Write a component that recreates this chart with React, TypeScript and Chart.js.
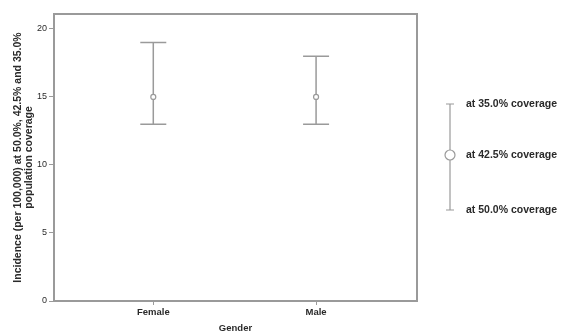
import React, { useEffect, useRef } from "react";
import { Chart, registerables } from "chart.js";
Chart.register(...registerables);

const categories = ["Female", "Male"];
const catPos = [1, 2];
const meanValues = [15, 15];
const upperValues = [19, 18];
const lowerValues = [13, 13];
const yTicks = [0, 5, 10, 15, 20];
const legendLabels = ["at 35.0% coverage", "at 42.5% coverage", "at 50.0% coverage"];

const GRAY = "#9a9a9a";
const TEXT = "#2a2a2a";
const FONT = "'Liberation Sans', Arial, sans-serif";

const errorBarPlugin = {
  id: "errorBars",
  afterDatasetsDraw(chart: any) {
    const ctx = chart.ctx;
    const xs = chart.scales.x;
    const ys = chart.scales.y;
    const ca = chart.chartArea;
    ctx.save();
    // frame
    ctx.strokeStyle = GRAY;
    ctx.lineWidth = 2;
    ctx.strokeRect(ca.left, ca.top, ca.right - ca.left, ca.bottom - ca.top);
    // error bars
    ctx.lineWidth = 1.5;
    for (let i = 0; i < catPos.length; i++) {
      const x = xs.getPixelForValue(catPos[i]);
      const yt = ys.getPixelForValue(upperValues[i]);
      const yb = ys.getPixelForValue(lowerValues[i]);
      const ym = ys.getPixelForValue(meanValues[i]);
      ctx.beginPath();
      ctx.moveTo(x, yt);
      ctx.lineTo(x, ym - 2.5);
      ctx.moveTo(x, ym + 2.5);
      ctx.lineTo(x, yb);
      ctx.moveTo(x - 13, yt);
      ctx.lineTo(x + 13, yt);
      ctx.moveTo(x - 13, yb);
      ctx.lineTo(x + 13, yb);
      ctx.stroke();
    }
    // legend
    const lx = 450;
    const yTop = 104, yMid = 155, yBot = 210;
    ctx.lineWidth = 1.2;
    ctx.beginPath();
    ctx.moveTo(lx, yTop);
    ctx.lineTo(lx, yMid - 5);
    ctx.moveTo(lx, yMid + 5);
    ctx.lineTo(lx, yBot);
    ctx.moveTo(lx - 4, yTop);
    ctx.lineTo(lx + 4, yTop);
    ctx.moveTo(lx - 4, yBot);
    ctx.lineTo(lx + 4, yBot);
    ctx.stroke();
    ctx.beginPath();
    ctx.arc(lx, yMid, 5, 0, Math.PI * 2);
    ctx.stroke();
    ctx.fillStyle = TEXT;
    ctx.font = `bold 10.5px ${FONT}`;
    ctx.textBaseline = "middle";
    ctx.textAlign = "left";
    ctx.fillText(legendLabels[0], 466, yTop);
    ctx.fillText(legendLabels[1], 466, yMid);
    ctx.fillText(legendLabels[2], 466, yBot);
    ctx.restore();
  },
};

export default function App() {
  const ref = useRef<HTMLCanvasElement>(null);
  useEffect(() => {
    if (!ref.current) return;
    const chart = new Chart(ref.current, {
      type: "scatter",
      data: {
        datasets: [
          {
            data: catPos.map((x, i) => ({ x, y: meanValues[i] })),
            pointRadius: 2.5,
            pointBorderColor: GRAY,
            pointBackgroundColor: "rgba(0,0,0,0)",
            pointBorderWidth: 1.2,
          },
        ],
      },
      options: {
        responsive: false,
        animation: false,
        layout: { padding: { left: 0, right: 146, top: 14, bottom: 0 } },
        plugins: { legend: { display: false }, tooltip: { enabled: false } },
        scales: {
          x: {
            type: "linear",
            min: 0.39,
            max: 2.62,
            afterBuildTicks: (s: any) => {
              s.ticks = catPos.map((v) => ({ value: v }));
            },
            afterFit: (s: any) => {
              s.height = 33;
            },
            ticks: {
              callback: (v: any) => categories[catPos.indexOf(Number(v))] ?? "",
              color: TEXT,
              font: { family: FONT, size: 9.5, weight: "bold" },
              padding: 2,
              maxRotation: 0,
            },
            grid: { drawOnChartArea: false, drawTicks: true, tickLength: 4, color: GRAY },
            border: { display: false },
            title: {
              display: true,
              text: "Gender",
              color: TEXT,
              font: { family: FONT, size: 9.5, weight: "bold" },
              padding: { top: 1, bottom: 0 },
            },
          },
          y: {
            min: 0,
            max: 21.1,
            afterBuildTicks: (s: any) => {
              s.ticks = yTicks.map((v) => ({ value: v }));
            },
            afterFit: (s: any) => {
              s.width = 54;
            },
            ticks: {
              color: TEXT,
              font: { family: FONT, size: 9 },
              padding: 2,
            },
            grid: { drawOnChartArea: false, drawTicks: true, tickLength: 5, color: GRAY },
            border: { display: false },
            title: {
              display: true,
              text: ["Incidence (per 100,000) at 50.0%, 42.5% and 35.0%", "population coverage"],
              color: TEXT,
              font: { family: FONT, size: 10.5, weight: "bold", lineHeight: 1.1 },
              padding: { top: 12, bottom: 0 },
            },
          },
        },
      },
      plugins: [errorBarPlugin],
    });
    return () => chart.destroy();
  }, []);
  return (
    <div style={{ position: "absolute", left: 0, top: 0, width: 563, height: 334, background: "#fff" }}>
      <canvas ref={ref} width={563} height={334} />
    </div>
  );
}
